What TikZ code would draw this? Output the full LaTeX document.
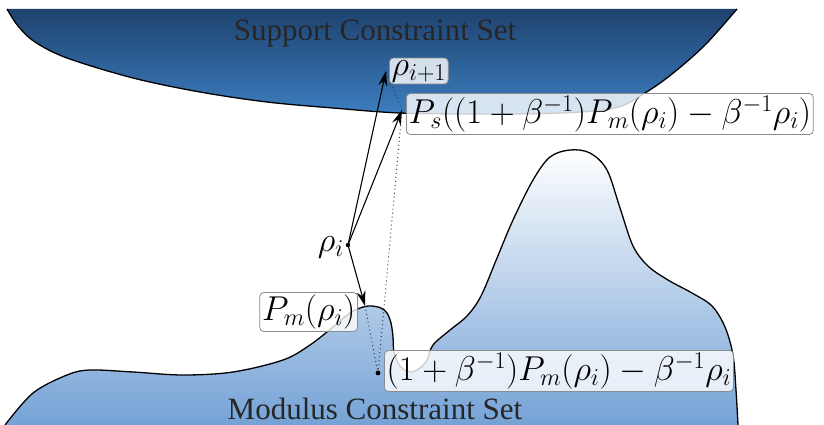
\RequirePackage{fix-cm}
\documentclass[tikz,border=0pt]{standalone}
\usepackage{fontspec}
\setmainfont{Liberation Serif}
\usetikzlibrary{arrows.meta}
\definecolor{supTop}{RGB}{30,66,110}
\definecolor{supBot}{RGB}{60,126,192}
\definecolor{modBot}{RGB}{116,162,214}
\tikzset{
  outline/.style={draw=black, line width=1.3pt},
  lbl/.style={draw=black!45, line width=0.8pt, rounded corners=4pt, fill=white,
    fill opacity=0.8, text opacity=1, inner sep=2.2pt, font=\fontsize{34.5}{40}\selectfont},
  setname/.style={font=\fontsize{31}{36}\selectfont, text=black!85, inner sep=1pt},
  iter/.style={-{Stealth[length=15pt,width=9pt]}, line width=1.1pt},
  proj/.style={line width=0.9pt, dash pattern=on 1pt off 3pt, black!80},
}
\begin{document}
\begin{tikzpicture}[x=1pt, y=-1pt]
\useasboundingbox (0,0) rectangle (824,425);
% support constraint set
\shade[top color=supTop, bottom color=supBot]
  plot[smooth, tension=0.55] coordinates {(737,9) (705,45) (672,74) (645,93) (615,108) (560,113) (480,114) (400,113) (333,108) (267,102) (200,92) (133,78) (67,58) (35,42) (18,26) (7,9)} -- cycle;
\draw[outline]
  plot[smooth, tension=0.55] coordinates {(737,9) (705,45) (672,74) (645,93) (615,108) (560,113) (480,114) (400,113) (333,108) (267,102) (200,92) (133,78) (67,58) (35,42) (18,26) (7,9)};
% modulus constraint set
\shade[top color=white, bottom color=modBot]
  plot[smooth, tension=0.55] coordinates {(5,425) (33,393) (67,375) (90,370) (133,372) (183,375) (233,372) (283,360) (310,345) (333,327) (350,313) (363,307) (372,306) (381,308) (387,313) (391,323) (393,337) (394,352) (400,366) (410,372) (420,368) (427,360) (433,345) (450,330) (467,316) (481,296) (497,258) (513,220) (533,180) (550,157) (570,150) (590,153) (607,170) (620,208) (633,246) (648,266) (668,280) (692,293) (712,306) (725,327) (733,355) (736,390) (738,425)} -- cycle;
\draw[outline]
  plot[smooth, tension=0.55] coordinates {(5,425) (33,393) (67,375) (90,370) (133,372) (183,375) (233,372) (283,360) (310,345) (333,327) (350,313) (363,307) (372,306) (381,308) (387,313) (391,323) (393,337) (394,352) (400,366) (410,372) (420,368) (427,360) (433,345) (450,330) (467,316) (481,296) (497,258) (513,220) (533,180) (550,157) (570,150) (590,153) (607,170) (620,208) (633,246) (648,266) (668,280) (692,293) (712,306) (725,327) (733,355) (736,390) (738,425)};
% set names
\node[setname, anchor=base] (supname) at (375,41) {Support Constraint Set};
\node[setname, anchor=base] (modname) at (375,419) {Modulus Constraint Set};
% key points
\coordinate (rho) at (348,245);
\coordinate (rhon) at (386,71);
\coordinate (ps) at (402,110);
\coordinate (pm) at (365,306);
\coordinate (refl) at (378,373);
% projections (dotted)
\draw[proj] (pm) -- (refl);
\draw[proj] (refl) -- (ps);
\draw[proj] (ps) -- (rhon);
% iteration arrows
\draw[iter] (rho) -- (rhon);
\draw[iter] (rho) -- (ps);
\draw[iter] (rho) -- (pm);
\fill (rho) circle (2.2pt);
\fill (refl) circle (2.4pt);
% labels
\node[font=\fontsize{34.5}{40}\selectfont, anchor=east, inner sep=2pt] (lrho) at (346,247) {$\rho_i$};
\node[lbl, anchor=west] (brhon) at (389,71) {$\rho_{i+1}$};
\node[lbl, anchor=west] (bps) at (406,114) {$P_s((1+\beta^{-1})P_m(\rho_i)-\beta^{-1}\rho_i)$};
\node[lbl, anchor=east] (bpm) at (358,312) {$P_m(\rho_i)$};
\node[lbl, anchor=west] (brefl) at (384,371) {$(1+\beta^{-1})P_m(\rho_i)-\beta^{-1}\rho_i$};
\end{tikzpicture}
\end{document}
